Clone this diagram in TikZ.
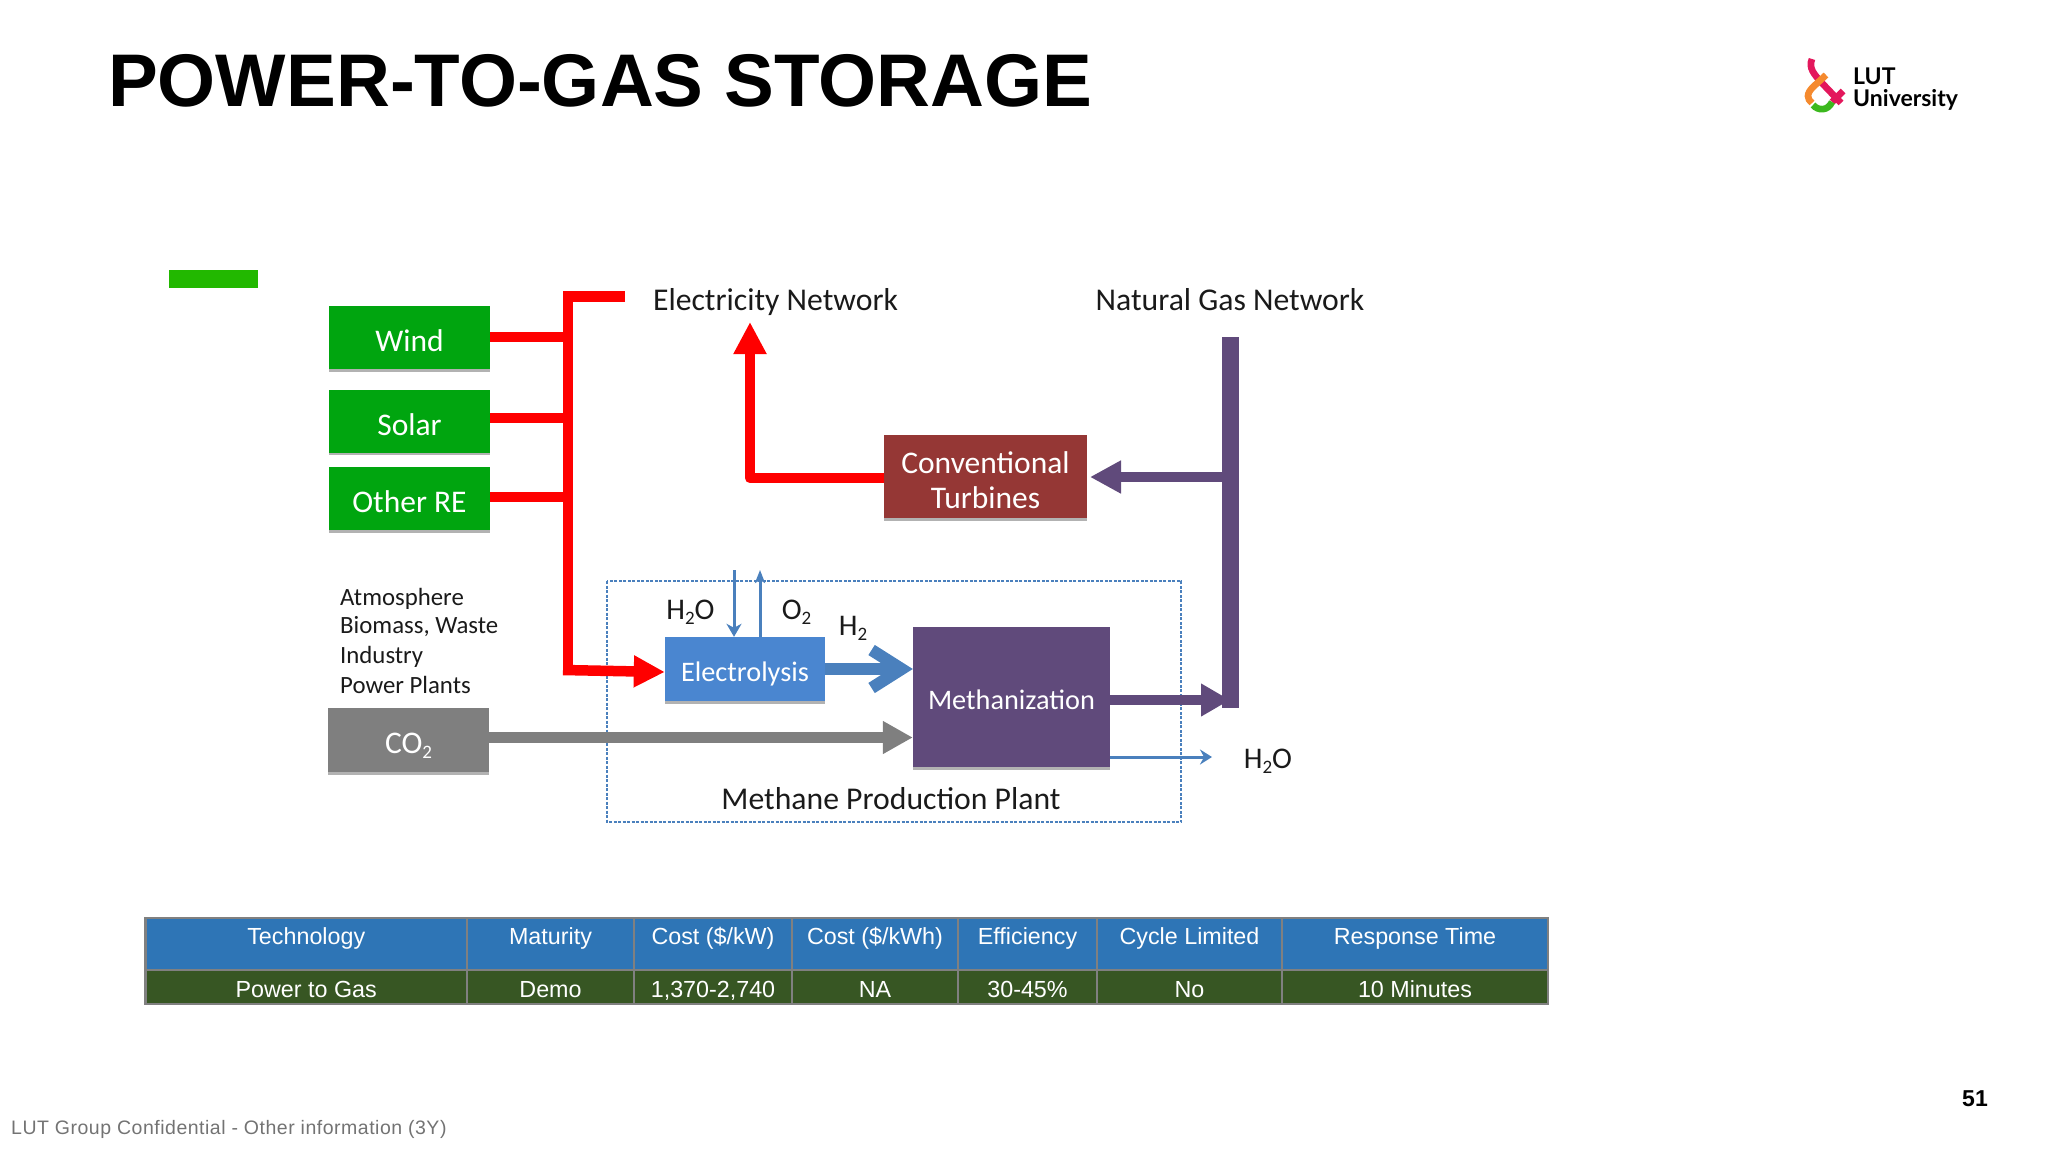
\documentclass[tikz,border=0pt]{standalone}
\usepackage{fontspec}
\setmainfont{Carlito}
\newfontfamily\arialf{Liberation Sans}
\newfontfamily\footf{Liberation Sans}[LetterSpace=2.6]
\newfontfamily\logof{Lato}
\usetikzlibrary{arrows.meta,shadows,calc}

\definecolor{reGreen}{HTML}{00A50F}
\definecolor{barGreen}{HTML}{22B800}
\definecolor{turbRed}{HTML}{953735}
\definecolor{methPurple}{HTML}{604A7B}
\definecolor{elecBlue}{HTML}{4A86D0}
\definecolor{flowBlue}{HTML}{4A80BD}
\definecolor{co2Gray}{HTML}{7F7F7F}
\definecolor{headBlue}{HTML}{2E75B6}
\definecolor{rowGreen}{HTML}{375623}
\definecolor{gridGray}{HTML}{808080}
\definecolor{txtDark}{HTML}{1A1A1A}
\definecolor{logoPink}{HTML}{E3175C}
\definecolor{logoOrange}{HTML}{F58A2E}
\definecolor{logoGreen}{HTML}{3CB81E}

\newcommand{\fsz}[1]{\fontsize{#1}{#1}\selectfont}
\newcommand{\subtwo}{\raisebox{-5pt}{\fsz{19}2}}

\tikzset{
  box/.style={rectangle, inner sep=0pt, text=white, align=center,
    font=\fsz{31.5}, text height=28pt, text depth=0pt,
    drop shadow={shadow xshift=0pt, shadow yshift=-2.5pt, opacity=.3, fill=black}},
  label/.style={inner sep=0pt, text=txtDark, anchor=base, font=\fsz{31.7}},
  chem/.style={inner sep=0pt, text=txtDark, anchor=base, font=\fsz{30}},
  smalllabel/.style={inner sep=0pt, text=txtDark, font=\fsz{24.8}, anchor=base west},
  redline/.style={draw=red, line width=10.5pt},
  purpleline/.style={draw=methPurple, line width=10.5pt},
  thinflow/.style={draw=flowBlue, line width=3pt},
  cell/.style={draw=gridGray, line width=2.5pt},
  cellfont/.style={inner sep=0pt, text=white, font=\arialf\fsz{23.3}, anchor=base},
  logostroke/.style={line width=6.7pt},
}

\begin{document}
\begin{tikzpicture}[x=1pt, y=-1pt, line join=miter]
  \useasboundingbox (0,0) rectangle (2048,1152);

  % title and slide furniture
  \node[anchor=base west, inner sep=0pt, font=\arialf\bfseries\fsz{74.6}] (title) at (108,106) {POWER-TO-GAS STORAGE};
  \node[anchor=base west, inner sep=0pt, text=black!55, font=\footf\fsz{19.5}] (foot) at (11,1134) {LUT Group Confidential - Other information (3Y)};
  \node[anchor=base, inner sep=0pt, font=\arialf\bfseries\fsz{23}] (page) at (1975,1106) {51};
  \fill[barGreen] (169,270) rectangle (258,288);

  % logo
  \draw[logostroke, logoPink] (1812,59) .. controls (1808,68) and (1815,75) .. (1820,81) -- (1841,103);
  \draw[logostroke, logoPink] (1843,91) -- (1832,102);
  \draw[logostroke, logoOrange] (1826,75) -- (1813,87) .. controls (1806,94) and (1807,99) .. (1812,103);
  \draw[logostroke, logoGreen] (1813,105) .. controls (1818,111) and (1828,111) .. (1832,102);
  \node[anchor=base west, inner sep=0pt, font=\logof\bfseries\fsz{23}] (lut) at (1853,84) {LUT};
  \node[anchor=base west, inner sep=0pt, font=\logof\bfseries\fsz{23}] (univ) at (1853,106) {University};

  % source boxes
  \node[box, fill=reGreen, minimum width=161pt, minimum height=63pt] (wind) at (409.5,337.5) {Wind};
  \node[box, fill=reGreen, minimum width=161pt, minimum height=63pt] (solar) at (409.5,421) {Solar};
  \node[box, fill=reGreen, minimum width=161pt, minimum height=63pt] (other) at (409.5,498.5) {Other RE};
  \node[box, fill=co2Gray, minimum width=161pt, minimum height=64pt, text height=26pt] (co2) at (408.5,740) {CO\subtwo};

  \node[box, fill=turbRed, minimum width=203pt, minimum height=83pt, text height=64pt] (turb) at (985.5,476.5) {Conventional\\[3.5pt]Turbines};
  \node[box, fill=elecBlue, minimum width=160pt, minimum height=64pt, font=\fsz{28.3}, text height=24pt] (elec) at (745,669) {Electrolysis};
  \node[box, fill=methPurple, minimum width=197pt, minimum height=140pt, font=\fsz{28.3}, text height=24pt] (meth) at (1011.5,697) {Methanization};

  % plant frame
  \draw[flowBlue, line width=1.6pt, dash pattern=on 3pt off 1.5pt] (607,581) rectangle (1181,822);
  \node[label] (plant) at (891,809) {Methane Production Plant};

  % network labels
  \node[label] (elnet) at (775.5,310) {Electricity Network};
  \node[label] (gasnet) at (1230,310) {Natural Gas Network};

  % red bus
  \coordinate (bustop) at (625,296.5);
  \coordinate (busknee) at (568,296.5);
  \coordinate (buslow) at (568,670);
  \coordinate (elecin) at (elec.west |- 0,672);
  \draw[redline] (bustop) -- (busknee) -- (buslow);
  \draw[redline] (wind.east |- 0,337) -- (568,337);
  \draw[redline] (solar.east |- 0,418) -- (568,418);
  \draw[redline] (other.east |- 0,497) -- (568,497);
  \draw[redline, -{Triangle[length=31pt,width=30pt]}] (563,670) -- (elecin);

  % turbine to electricity
  \coordinate (elup) at (750,322);
  \coordinate (elknee) at (750,478);
  \draw[redline, line join=round, -{Triangle[length=32pt,width=31pt]}] (turb.west |- elknee) -- (elknee) -- (elup);

  % gas bus
  \coordinate (gastop) at (1230.5,337);
  \coordinate (gasbot) at (1230.5,708);
  \coordinate (gastap) at (1230.5,477);
  \coordinate (turbin) at (1090,477);
  \draw[methPurple, line width=17pt] (gastop) -- (gasbot);
  \draw[purpleline, -{Triangle[length=31pt,width=31pt]}] (gastap) -- (turbin);
  \coordinate (gasin) at (1230,700);
  \draw[purpleline, -{Triangle[length=29pt,width=31pt]}] (meth.east |- gasin) -- (gasin);

  % process flows
  \coordinate (co2tip) at (meth.west |- 0,737.5);
  \draw[co2Gray, line width=11pt, -{Triangle[length=30pt,width=31pt]}] (co2.east |- co2tip) -- (co2tip);
  \coordinate (h2tip) at (meth.west |- 0,669);
  \draw[flowBlue, line width=12pt, -{Straight Barb[length=30pt,width=38pt,line width=12pt]}] (elec.east |- h2tip) -- (h2tip);

  \coordinate (wtop) at (734,570);
  \coordinate (otop) at (760,570);
  \draw[thinflow, -{Stealth[length=13pt,width=15pt,inset=4pt]}] (wtop) -- (wtop |- elec.north);
  \draw[thinflow, -{Stealth[length=13pt,width=10pt,inset=3pt]}] (otop |- elec.north) -- (otop);

  \coordinate (h2oend) at (1212,757);
  \draw[thinflow, -{Stealth[length=12pt,width=15pt,inset=4pt]}] (meth.east |- h2oend) -- (h2oend);

  % chemical labels
  \node[chem] (lh2o) at (690.5,619) {H\subtwo O};
  \node[chem] (lo2) at (796.5,619) {O\subtwo};
  \node[chem] (lh2) at (853,635) {H\subtwo};
  \node[chem] (lout) at (1268,768) {H\subtwo O};

  \node[smalllabel] (t1) at (340,605) {Atmosphere};
  \node[smalllabel] (t2) at (340,633) {Biomass, Waste};
  \node[smalllabel] (t3) at (340,663) {Industry};
  \node[smalllabel] (t4) at (340,693) {Power Plants};

  % table
  \foreach \nm/\xa/\xb/\htxt/\rtxt in {%
    a/145.5/467/Technology/Power to Gas,
    b/467/634/Maturity/Demo,
    c/634/792/{Cost (\$/kW)}/{1,370-2,740},
    d/792/958/{Cost (\$/kWh)}/NA,
    e/958/1097/Efficiency/30-45\%,
    f/1097/1282/Cycle Limited/No,
    g/1282/1548/Response Time/10 Minutes}{
    \filldraw[cell, fill=headBlue] (\xa,918) rectangle (\xb,970);
    \filldraw[cell, fill=rowGreen] (\xa,970) rectangle (\xb,1004);
    \node[cellfont] (h\nm) at ({(\xa+\xb)/2},944) {\htxt};
    \node[cellfont] (r\nm) at ({(\xa+\xb)/2},997) {\rtxt};
  }
\end{tikzpicture}
\end{document}
